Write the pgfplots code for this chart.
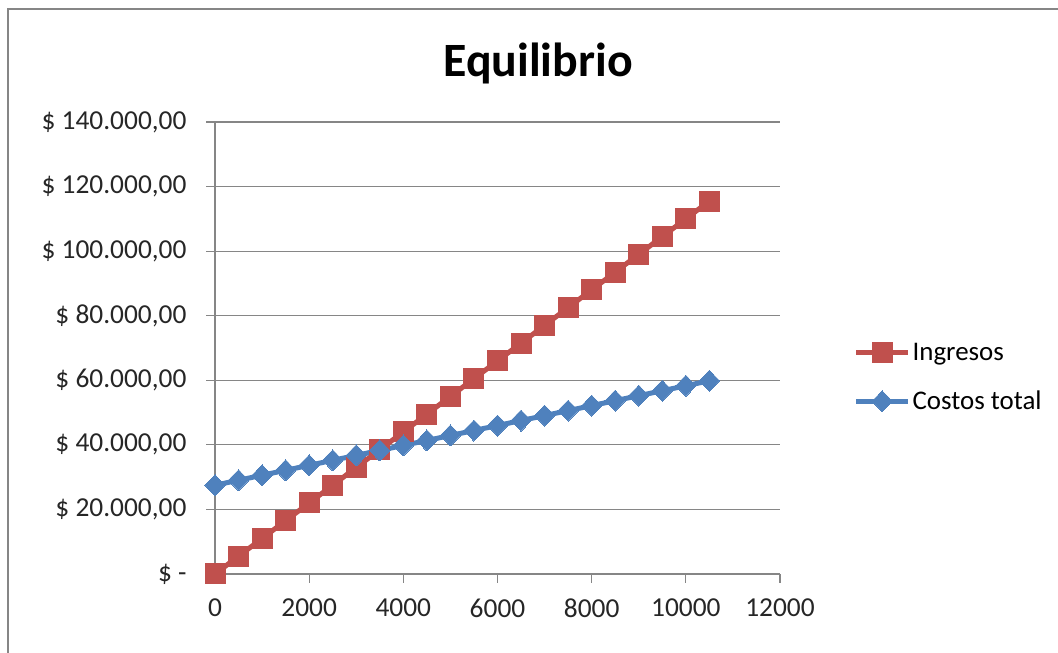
\documentclass[border=0pt]{standalone}
\usepackage{pgfplots}
\pgfplotsset{compat=1.18}
\usepackage{fontspec}
\setmainfont{Carlito}
\definecolor{exred}{HTML}{C0504D}
\definecolor{exblue}{HTML}{4F81BD}
\definecolor{exgray}{HTML}{868686}
\begin{document}
\begin{tikzpicture}[x=1bp,y=1bp]
\path[use as bounding box] (0,0) rectangle (1058,653);
\draw[exgray,line width=2.2bp] (8,0) -- (8,644) -- (1058,644);
\node[font=\bfseries\fontsize{48}{50}\selectfont] at (538,590) {Equilibrio};
\begin{axis}[
  at={(215bp,79bp)}, anchor=south west,
  scale only axis, width=565bp, height=452bp,
  xmin=0, xmax=12000, ymin=0, ymax=140000,
  xtick={0,2000,...,12000},
  xticklabels={0,2000,4000,6000,8000,10000,12000},
  ytick={0,20000,...,140000},
  yticklabels={\$ -,\$ 20.000{,}00,\$ 40.000{,}00,\$ 60.000{,}00,\$ 80.000{,}00,\$ 100.000{,}00,\$ 120.000{,}00,\$ 140.000{,}00},
  scaled ticks=false,
  axis line style={exgray,line width=1.2bp},
  axis x line*=bottom, axis y line*=left,
  ymajorgrids, grid style={exgray,line width=1.2bp},
  tick style={exgray,line width=1.2bp},
  tick align=outside, major tick length=9bp,
  ticklabel style={font=\fontsize{27.5}{29}\selectfont, text=black!85},
  xticklabel style={yshift=-12bp},
  yticklabel style={xshift=-16bp},
  /pgf/number format/assume math mode=true,
  clip=false,
  legend style={at={(1.13,0.515)}, anchor=north west, draw=none, fill=none,
    font=\fontsize{27}{29}\selectfont, row sep=25bp, inner sep=0pt,
    /tikz/every even column/.append style={column sep=2bp}},
  legend cell align=left,
  legend image code/.code={
    \draw[#1,line width=5bp] (0bp,0bp) -- (52bp,0bp);
    \draw[#1,only marks] plot coordinates {(26bp,0bp)};
  },
]
\addplot[exred, line width=5bp, mark=square*, mark size=10bp, mark options={solid,fill=exred,draw=exred,line width=0bp}] coordinates {
(0,0) (500,5500) (1000,11000) (1500,16500) (2000,22000) (2500,27500) (3000,33000) (3500,38500) (4000,44000) (4500,49500) (5000,55000) (5500,60500) (6000,66000) (6500,71500) (7000,77000) (7500,82500) (8000,88000) (8500,93500) (9000,99000) (9500,104500) (10000,110000) (10500,115500)
};
\addlegendentry{Ingresos}
\addplot[exblue, line width=5bp, mark=diamond*, mark size=10.5bp, mark options={solid,fill=exblue,draw=exblue,line width=0bp,xscale=1.3}] coordinates {
(0,27500) (500,29040) (1000,30580) (1500,32120) (2000,33660) (2500,35200) (3000,36740) (3500,38280) (4000,39820) (4500,41360) (5000,42900) (5500,44440) (6000,45980) (6500,47520) (7000,49060) (7500,50600) (8000,52140) (8500,53680) (9000,55220) (9500,56760) (10000,58300) (10500,59840)
};
\addlegendentry{Costos total}
\end{axis}
\end{tikzpicture}
\end{document}
